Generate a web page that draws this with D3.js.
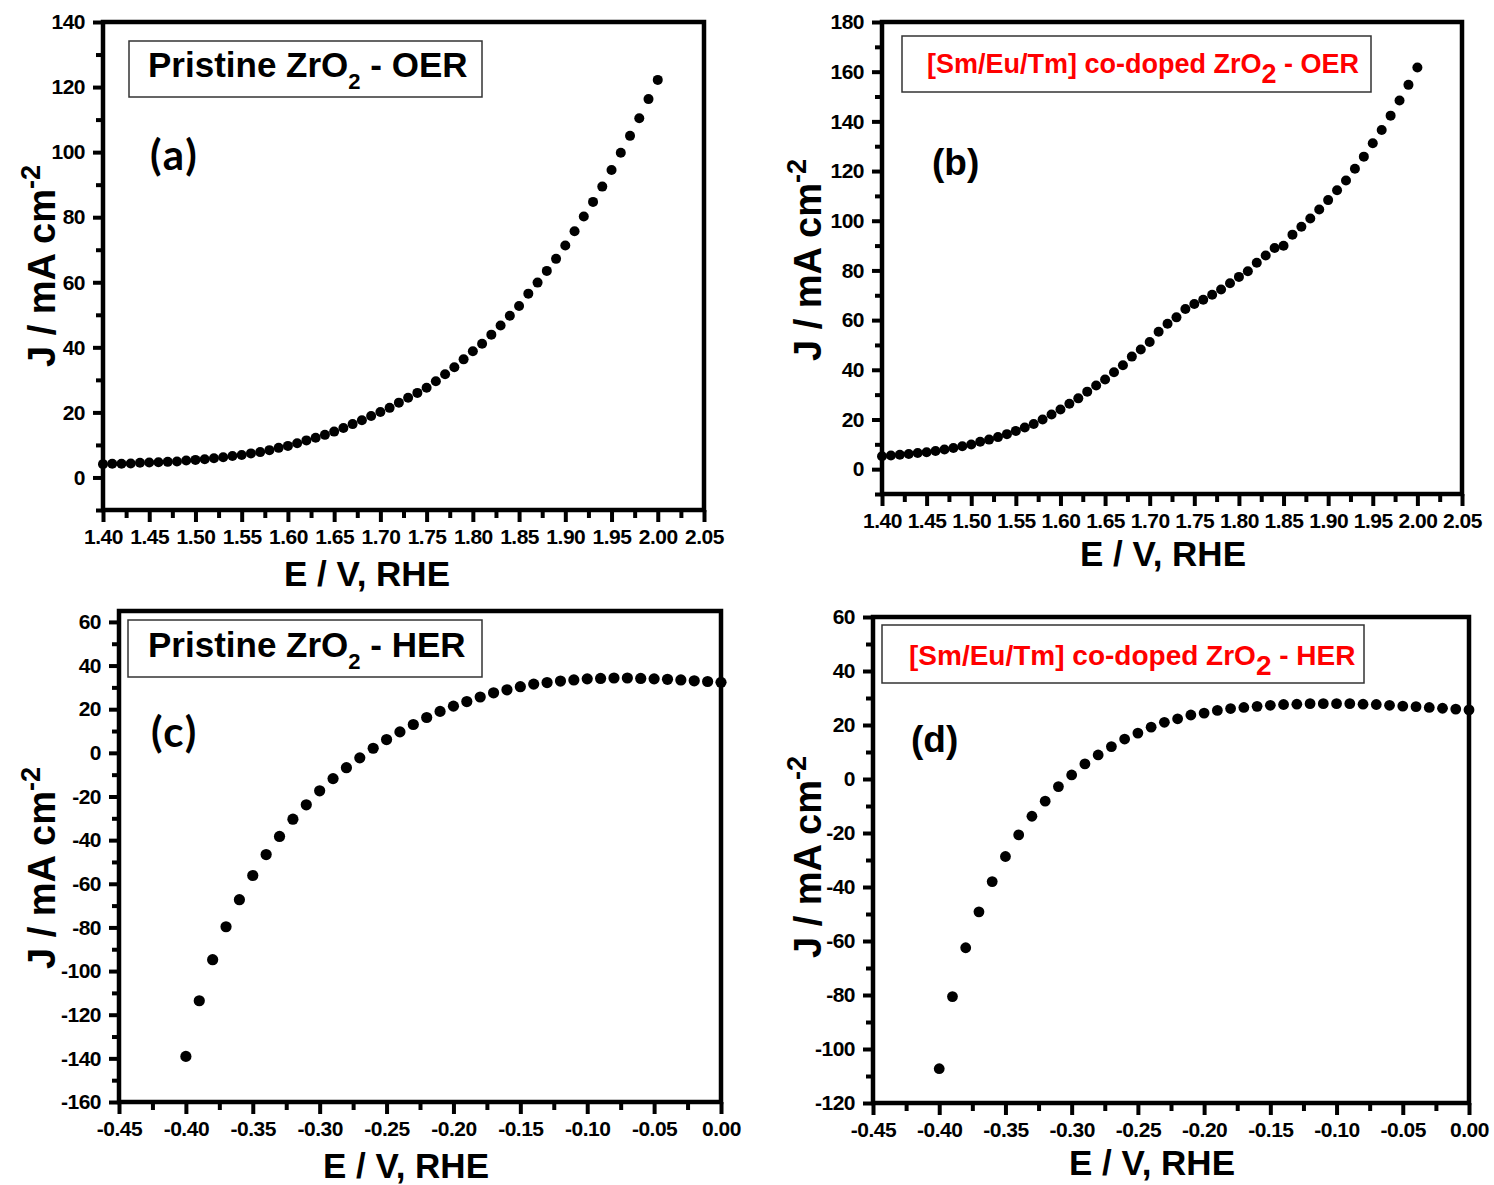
<!DOCTYPE html>
<html>
<head>
<meta charset="utf-8">
<script src="https://cdn.jsdelivr.net/npm/d3@7"></script>
<style>
body { margin: 0; background: #fff; }
svg text { font-family: "Liberation Sans", Arial, sans-serif; font-weight: bold; }
</style>
</head>
<body>
<svg id="chart" width="1494" height="1185"></svg>
<script>
// ---- data ----
var eOER = [1.40,1.41,1.42,1.43,1.44,1.45,1.46,1.47,1.48,1.49,
            1.50,1.51,1.52,1.53,1.54,1.55,1.56,1.57,1.58,1.59,
            1.60,1.61,1.62,1.63,1.64,1.65,1.66,1.67,1.68,1.69,
            1.70,1.71,1.72,1.73,1.74,1.75,1.76,1.77,1.78,1.79,
            1.80,1.81,1.82,1.83,1.84,1.85,1.86,1.87,1.88,1.89,
            1.90,1.91,1.92,1.93,1.94,1.95,1.96,1.97,1.98,1.99,2.00];

var jPristineOER = [4.1,4.2,4.2,4.3,4.5,4.6,4.7,4.8,4.9,5.2,
                    5.4,5.6,5.9,6.2,6.6,6.9,7.4,7.8,8.4,9.1,
                    9.7,10.5,11.4,12.2,13.1,14.1,15.2,16.4,17.6,18.9,
                    20.1,21.4,23.0,24.5,26.0,27.6,29.6,31.7,33.9,36.3,
                    38.8,41.1,43.9,46.7,49.7,52.7,56.5,59.9,63.5,67.2,
                    71.3,75.7,80.2,84.7,89.4,94.5,99.8,105.0,110.4,116.3,122.2];

var jDopedOER = [5.2,5.5,5.8,6.1,6.5,6.8,7.3,7.9,8.5,9.2,
                 9.9,11.0,11.9,12.9,14.1,15.4,16.8,18.2,20.0,22.0,
                 24.0,26.3,28.5,31.2,33.7,36.1,39.0,41.8,45.3,48.2,
                 51.2,55.3,58.5,61.1,64.5,66.5,68.2,70.2,72.3,74.8,
                 77.4,79.7,83.1,86.0,89.0,89.9,94.4,97.6,100.9,104.5,
                 108.3,112.3,116.2,120.9,125.8,131.2,136.5,142.3,148.4,154.7,161.7];

var eHER = [-0.40,-0.39,-0.38,-0.37,-0.36,-0.35,-0.34,-0.33,-0.32,-0.31,
            -0.30,-0.29,-0.28,-0.27,-0.26,-0.25,-0.24,-0.23,-0.22,-0.21,
            -0.20,-0.19,-0.18,-0.17,-0.16,-0.15,-0.14,-0.13,-0.12,-0.11,
            -0.10,-0.09,-0.08,-0.07,-0.06,-0.05,-0.04,-0.03,-0.02,-0.01,0.00];

var jPristineHER = [-139.1,-113.6,-94.8,-79.7,-67.3,-56.2,-46.6,-38.3,-30.4,-23.8,
                    -17.4,-11.8,-6.8,-2.3,2.1,6.1,9.6,13.0,16.2,19.0,
                    21.4,23.5,25.6,27.5,28.9,30.3,31.5,32.2,32.9,33.4,
                    33.9,34.1,34.3,34.3,34.1,33.9,33.7,33.4,33.0,32.7,32.3];

var jDopedHER = [-107.3,-80.6,-62.5,-49.2,-38.0,-28.7,-20.7,-13.8,-8.2,-2.8,
                 1.5,5.6,8.9,12.0,14.8,17.0,19.2,21.0,22.3,23.7,
                 24.4,25.4,26.1,26.5,26.9,27.3,27.6,27.7,27.9,27.9,
                 27.9,27.9,27.7,27.6,27.3,27.0,26.8,26.5,26.2,25.9,25.6];

// ---- tick values ----
var xTicksOER = [1.40,1.45,1.50,1.55,1.60,1.65,1.70,1.75,1.80,1.85,1.90,1.95,2.00,2.05];
var xMinorOER = [1.425,1.475,1.525,1.575,1.625,1.675,1.725,1.775,1.825,1.875,1.925,1.975,2.025];
var xTicksHER = [-0.45,-0.40,-0.35,-0.30,-0.25,-0.20,-0.15,-0.10,-0.05,0.00];
var xMinorHER = [-0.425,-0.375,-0.325,-0.275,-0.225,-0.175,-0.125,-0.075,-0.025];

var yTicksA = [0,20,40,60,80,100,120,140];
var yMinorA = [-10,10,30,50,70,90,110,130];
var yTicksB = [0,20,40,60,80,100,120,140,160,180];
var yMinorB = [-10,10,30,50,70,90,110,130,150,170];
var yTicksC = [-160,-140,-120,-100,-80,-60,-40,-20,0,20,40,60];
var yMinorC = [-150,-130,-110,-90,-70,-50,-30,-10,10,30,50];
var yTicksD = [-120,-100,-80,-60,-40,-20,0,20,40,60];
var yMinorD = [-110,-90,-70,-50,-30,-10,10,30,50];

var panels = [
  {label:"(a)", e:eOER, j:jPristineOER, xDomain:[1.40,2.05], yDomain:[-10,140],
   xTicks:xTicksOER, xMinor:xMinorOER, yTicks:yTicksA, yMinor:yMinorA,
   left:103, right:704, top:22, bottom:510, r:5,
   title:["Pristine ZrO","2"," - OER"], titleColor:"#000", titleSize:35, subSize:22, subDy:12,
   box:[129,41,482,97], titleX:148, titleY:77,
   labelX:150, labelY:170, labelFont:"Lato", labelSize:42, labelSpacing:2,
   xTitleX:367, xTitleY:586, yTitleX:55, yTitleY:266},
  {label:"(b)", e:eOER, j:jDopedOER, xDomain:[1.40,2.05], yDomain:[-10,180],
   xTicks:xTicksOER, xMinor:xMinorOER, yTicks:yTicksB, yMinor:yMinorB,
   left:882, right:1462, top:22, bottom:494, r:5,
   title:["[Sm/Eu/Tm] co-doped ZrO","2"," - OER"], titleColor:"#ff0000", titleSize:27, subSize:27, subDy:10,
   box:[902,36,1371,92], titleX:927, titleY:73,
   labelX:932, labelY:175, labelFont:"Liberation Sans", labelSize:37, labelSpacing:0,
   xTitleX:1163, xTitleY:566, yTitleX:821, yTitleY:260},
  {label:"(c)", e:eHER, j:jPristineHER, xDomain:[-0.45,0.00], yDomain:[-160,65],
   xTicks:xTicksHER, xMinor:xMinorHER, yTicks:yTicksC, yMinor:yMinorC,
   left:119, right:721, top:611, bottom:1102, r:5.6,
   title:["Pristine ZrO","2"," - HER"], titleColor:"#000", titleSize:35, subSize:22, subDy:12,
   box:[128,620,482,677], titleX:148, titleY:657,
   labelX:151, labelY:747, labelFont:"Lato", labelSize:42, labelSpacing:2,
   xTitleX:406, xTitleY:1178, yTitleX:55, yTitleY:868},
  {label:"(d)", e:eHER, j:jDopedHER, xDomain:[-0.45,0.00], yDomain:[-120,60],
   xTicks:xTicksHER, xMinor:xMinorHER, yTicks:yTicksD, yMinor:yMinorD,
   left:873, right:1469, top:617, bottom:1103, r:5.4,
   title:["[Sm/Eu/Tm] co-doped ZrO","2"," - HER"], titleColor:"#ff0000", titleSize:28, subSize:28, subDy:10,
   box:[882,625,1364,683], titleX:909, titleY:665,
   labelX:911, labelY:752, labelFont:"Liberation Sans", labelSize:37, labelSpacing:0,
   xTitleX:1152, xTitleY:1175, yTitleX:821, yTitleY:857}
];

var svg = d3.select("#chart");
svg.append("rect").attr("width",1494).attr("height",1185).attr("fill","#fff");

function styleAxis(sel){
  sel.select(".domain").remove();
  sel.selectAll(".tick line").attr("stroke","#000").attr("stroke-width",4);
  sel.attr("font-size",21).attr("font-family","Liberation Sans, Arial, sans-serif");
  sel.selectAll(".tick text").attr("fill","#000").style("letter-spacing","-0.5px");
}

function drawPanel(p){
  var g = svg.append("g");
  var x = d3.scaleLinear().domain(p.xDomain).range([p.left, p.right]);
  var y = d3.scaleLinear().domain(p.yDomain).range([p.bottom, p.top]);

  // minor ticks
  g.append("g").attr("transform","translate(0,"+p.bottom+")")
    .call(d3.axisBottom(x).tickValues(p.xMinor).tickSize(8).tickFormat(""))
    .call(styleAxis);
  g.append("g").attr("transform","translate("+p.left+",0)")
    .call(d3.axisLeft(y).tickValues(p.yMinor).tickSize(7).tickFormat(""))
    .call(styleAxis);

  // major ticks
  g.append("g").attr("transform","translate(0,"+p.bottom+")")
    .call(d3.axisBottom(x).tickValues(p.xTicks).tickSize(12).tickPadding(7)
      .tickFormat(function(d){ return d.toFixed(2); }))
    .call(styleAxis);
  g.append("g").attr("transform","translate("+p.left+",0)")
    .call(d3.axisLeft(y).tickValues(p.yTicks).tickSize(10).tickPadding(8)
      .tickFormat(function(d){ return String(d); }))
    .call(styleAxis);

  // points
  g.append("g").selectAll("circle")
    .data(d3.zip(p.e, p.j))
    .join("circle")
    .attr("cx", function(d){ return x(d[0]); })
    .attr("cy", function(d){ return y(d[1]); })
    .attr("r", p.r)
    .attr("fill","#000");

  // frame
  g.append("rect")
    .attr("x",p.left).attr("y",p.top)
    .attr("width",p.right-p.left).attr("height",p.bottom-p.top)
    .attr("fill","none").attr("stroke","#000").attr("stroke-width",4.5);

  // title box
  g.append("rect")
    .attr("x",p.box[0]).attr("y",p.box[1])
    .attr("width",p.box[2]-p.box[0]).attr("height",p.box[3]-p.box[1])
    .attr("fill","#fff").attr("stroke","#333").attr("stroke-width",1.5);
  var t = g.append("text").attr("x",p.titleX).attr("y",p.titleY)
    .attr("font-size",p.titleSize).attr("fill",p.titleColor)
    .style("white-space","pre");
  t.append("tspan").text(p.title[0]);
  t.append("tspan").attr("font-size",p.subSize).attr("dy",p.subDy).text(p.title[1]);
  t.append("tspan").attr("dy",-p.subDy).text(p.title[2]);

  // panel letter
  g.append("text").attr("x",p.labelX).attr("y",p.labelY)
    .attr("font-size",p.labelSize).style("font-family",p.labelFont)
    .style("letter-spacing",p.labelSpacing+"px")
    .attr("fill","#000").text(p.label);

  // axis titles
  g.append("text").attr("x",p.xTitleX).attr("y",p.xTitleY)
    .attr("text-anchor","middle").attr("font-size",35).attr("fill","#000")
    .text("E / V, RHE");
  var yt = g.append("text")
    .attr("transform","translate("+p.yTitleX+","+p.yTitleY+") rotate(-90)")
    .attr("text-anchor","middle").attr("font-size",38).attr("fill","#000");
  yt.append("tspan").text("J / mA cm");
  yt.append("tspan").attr("font-size",27).attr("dy",-15).text("-2");
}

panels.forEach(drawPanel);
</script>
</body>
</html>
